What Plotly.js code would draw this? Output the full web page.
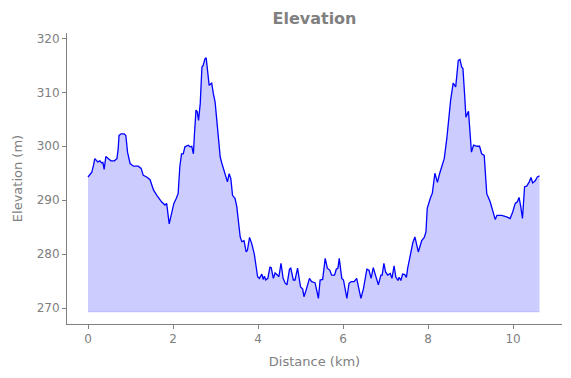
<!DOCTYPE html>
<html>
<head>
<meta charset="utf-8">
<script src="https://cdn.plot.ly/plotly-3.0.1.min.js"></script>
<style>html,body{margin:0;padding:0;background:#fff;}#chart{width:571px;height:378px;}</style>
</head>
<body>
<div id="chart"></div>
<script>
// Distance along the route (km)
const distanceKm = [
 0.00,0.05,0.09,0.13,0.16,0.23,0.28,0.32,0.35,0.38,0.42,0.48,0.54,0.62,0.68,0.71,0.73,0.78,0.85,0.89,
 0.93,0.99,1.07,1.18,1.25,1.30,1.38,1.46,1.54,1.62,1.73,1.81,1.85,1.91,1.97,2.02,2.07,2.12,2.16,2.20,
 2.24,2.28,2.36,2.40,2.44,2.48,2.50,2.54,2.57,2.60,2.64,2.68,2.71,2.75,2.78,2.81,2.85,2.89,2.91,2.95,
 2.99,3.03,3.07,3.11,3.15,3.21,3.28,3.32,3.36,3.40,3.46,3.50,3.54,3.58,3.62,3.67,3.72,3.75,3.80,3.85,
 3.91,3.95,3.99,4.03,4.09,4.12,4.15,4.18,4.23,4.28,4.31,4.36,4.40,4.46,4.49,4.54,4.59,4.64,4.68,4.74,
 4.77,4.83,4.87,4.93,4.97,5.00,5.05,5.08,5.13,5.21,5.26,5.34,5.38,5.42,5.46,5.52,5.58,5.63,5.69,5.73,
 5.80,5.84,5.88,5.91,5.97,6.01,6.09,6.14,6.19,6.26,6.32,6.36,6.42,6.48,6.56,6.61,6.66,6.71,6.77,6.83,
 6.89,6.92,6.96,7.00,7.05,7.11,7.15,7.20,7.24,7.29,7.32,7.36,7.40,7.45,7.49,7.52,7.58,7.64,7.69,7.73,
 7.77,7.85,7.91,7.95,7.98,8.05,8.10,8.16,8.22,8.27,8.34,8.38,8.44,8.48,8.51,8.53,8.59,8.65,8.71,8.75,
 8.79,8.82,8.86,8.89,8.95,9.02,9.07,9.15,9.21,9.26,9.32,9.38,9.46,9.52,9.58,9.62,9.73,9.85,9.93,9.99,
 10.05,10.10,10.14,10.18,10.22,10.27,10.32,10.38,10.42,10.46,10.52,10.57,10.62
];
// Elevation (m)
const elevationM = [
 294.3,294.8,295.2,296.5,297.7,297.1,297.3,296.9,297.0,295.7,298.1,297.7,297.3,297.3,297.7,299.5,302.0,302.3,302.3,302.0,
 298.9,296.8,296.3,296.3,295.9,294.6,294.3,293.8,291.9,290.9,289.7,289.1,289.4,285.6,287.5,289.4,290.2,291.2,296.2,298.6,
 298.6,299.9,300.2,299.9,300.0,298.6,301.7,306.7,306.4,304.8,307.9,314.7,315.0,316.2,316.4,314.1,311.3,311.6,311.7,309.7,
 308.2,304.8,300.5,298.0,296.8,295.2,293.4,294.9,294.0,290.9,290.3,288.8,285.7,283.2,282.3,282.5,280.4,280.7,283.1,282.0,
 280.1,278.3,275.8,275.5,276.3,275.3,275.9,275.2,275.5,277.6,277.5,275.5,276.5,276.1,275.8,278.3,275.5,274.6,274.3,277.2,
 277.4,275.2,275.2,277.4,275.5,273.9,273.5,272.1,273.3,275.5,274.9,274.7,273.3,271.8,275.2,275.3,279.2,277.4,277.0,276.1,
 276.1,277.2,277.4,279.2,275.5,275.2,271.8,274.6,274.9,274.9,275.5,273.9,271.8,273.6,277.2,277.0,275.5,277.5,275.8,274.3,
 276.1,276.1,278.3,276.7,276.1,276.4,275.5,277.8,275.8,275.1,275.7,275.1,276.3,276.2,275.7,277.4,279.7,282.1,283.2,281.8,
 280.4,282.5,283.1,284.1,288.5,290.3,291.3,295.0,293.3,294.9,296.6,297.7,301.4,304.5,307.9,308.5,311.7,311.0,315.9,316.1,
 314.7,314.4,309.5,305.4,306.5,298.9,300.2,300.0,300.0,298.6,298.3,291.2,289.7,287.8,286.4,287.2,287.2,286.9,286.6,287.8,
 289.4,289.7,290.5,288.8,286.6,292.5,292.6,293.4,294.2,293.2,293.6,294.3,294.5
];
// Fill baseline (m)
const baselineM = 269.3;

const grey = '#808080';
const font = 'DejaVu Sans, sans-serif';

const baseX = [distanceKm[0], distanceKm[distanceKm.length - 1]];
const baseY = [baselineM, baselineM];

const traces = [
  {x: baseX, y: baseY, mode: 'lines', line: {color: 'rgba(0,0,255,0.18)', width: 1}, hoverinfo: 'skip', showlegend: false},
  {x: distanceKm, y: elevationM, mode: 'lines', fill: 'tonexty', fillcolor: 'rgba(0,0,255,0.2)',
   line: {color: '#0000ff', width: 1.3}, showlegend: false}
];

const layout = {
  width: 571, height: 378,
  margin: {l: 67, r: 9, t: 33, b: 54},
  paper_bgcolor: '#fff', plot_bgcolor: '#fff',
  font: {family: font, color: grey, size: 12},
  title: {text: '<b>Elevation</b>', x: 0.5, xref: 'paper', xanchor: 'center',
          y: 0.952, yref: 'container', yanchor: 'middle',
          font: {family: font, size: 16, color: grey}},
  xaxis: {
    range: [-0.494, 11.15], tickvals: [0, 2, 4, 6, 8, 10], ticktext: ['0', '2', '4', '6', '8', '10'],
    showgrid: false, zeroline: false, showline: true, linecolor: grey, linewidth: 1,
    ticks: 'outside', ticklen: 4, tickcolor: grey, tickfont: {size: 12, color: grey},
    title: {text: 'Distance (km)', font: {size: 13, color: grey}, standoff: 11}
  },
  yaxis: {
    range: [267.04, 321.0], tickvals: [270, 280, 290, 300, 310, 320],
    showgrid: false, zeroline: false, showline: true, linecolor: grey, linewidth: 1,
    ticks: 'outside', ticklen: 4, tickcolor: grey, tickfont: {size: 12, color: grey},
    title: {text: 'Elevation (m)', font: {size: 13, color: grey}, standoff: 11}
  }
};

Plotly.newPlot('chart', traces, layout, {staticPlot: true, displayModeBar: false});
</script>
</body>
</html>
